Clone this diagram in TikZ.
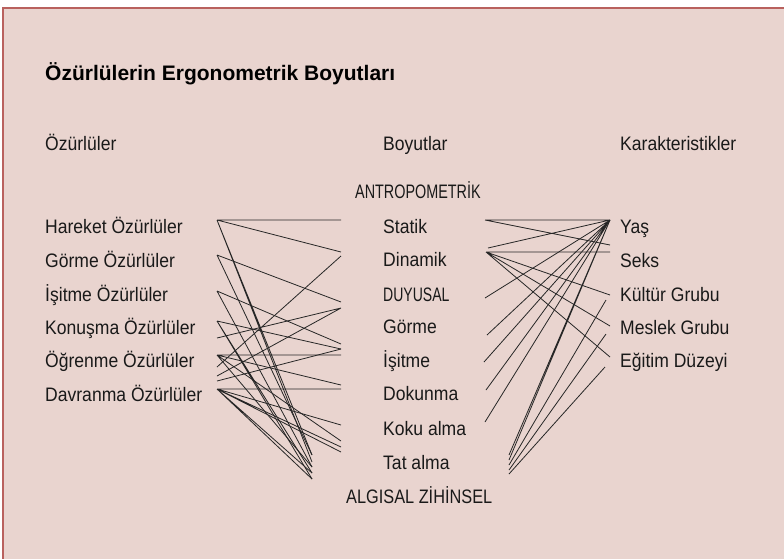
\documentclass[tikz,border=0pt]{standalone}
\usepackage{fontspec}
\usepackage{graphicx}
\setmainfont{Liberation Sans}[FakeStretch=0.9]
\newfontfamily\titlefont{Liberation Sans}
\definecolor{bgpink}{HTML}{E9D4CF}
\definecolor{frame}{HTML}{B9615E}
\begin{document}
\begin{tikzpicture}[x=1pt,y=-1pt,
  txt/.style={anchor=base west,inner sep=0pt,font=\fontsize{19.5}{22}\selectfont,text=black!90},
  ttl/.style={anchor=base west,inner sep=0pt,font=\titlefont\bfseries\fontsize{21}{24}\selectfont,text=black},
  ln/.style={draw=black!85,line width=0.8pt}]
\useasboundingbox (0,0) rectangle (784,558);
\fill[white] (0,0) rectangle (784,558);
\filldraw[fill=bgpink,draw=frame,line width=2.2pt] (3,8) rectangle (800,580);
% texts
\node[ttl] (title) at (45,80) {Özürlülerin Ergonometrik Boyutları};
\node[txt] (hl) at (45,150) {Özürlüler};
\node[txt] (hc) at (383,150) {Boyutlar};
\node[txt] (hr) at (620,150) {Karakteristikler};
\node[txt] (antro) at (355,198) {\scalebox{0.82}[1]{ANTROPOMETRİK}};
\node[txt] (algi) at (346,503) {\scalebox{0.93}[1]{ALGISAL ZİHİNSEL}};
\node[txt] (t1) at (45,233) {Hareket Özürlüler};
\node[txt] (t2) at (45,267) {Görme Özürlüler};
\node[txt] (t3) at (45,301) {İşitme Özürlüler};
\node[txt] (t4) at (45,334) {Konuşma Özürlüler};
\node[txt] (t5) at (45,367) {Öğrenme Özürlüler};
\node[txt] (t6) at (45,401) {Davranma Özürlüler};
\node[txt] (c1) at (383,233) {Statik};
\node[txt] (c2) at (383,266) {Dinamik};
\node[txt] (c3) at (383,301) {\scalebox{0.8}[1]{DUYUSAL}};
\node[txt] (c4) at (383,333) {Görme};
\node[txt] (c5) at (383,367) {İşitme};
\node[txt] (c6) at (383,400) {Dokunma};
\node[txt] (c7) at (383,435) {Koku alma};
\node[txt] (c8) at (383,469) {Tat alma};
\node[txt] (r1) at (620,233) {Yaş};
\node[txt] (r2) at (620,267) {Seks};
\node[txt] (r3) at (620,301) {Kültür Grubu};
\node[txt] (r4) at (620,334) {Meslek Grubu};
\node[txt] (r5) at (620,367) {Eğitim Düzeyi};
% left anchors
\coordinate (lH) at (217,220);
\coordinate (lG) at (217,255);
\coordinate (lI) at (217,291);
\coordinate (lK) at (217,321);
\coordinate (lO) at (217,355);
\coordinate (lD) at (217,389);
% centre-left ends
\coordinate (cS) at (341,220);
\coordinate (cDn) at (341,252);
\coordinate (cDm) at (341,256);
\coordinate (cA) at (341,302);
\coordinate (cB) at (341,308);
\coordinate (cC) at (341,344);
\coordinate (cD) at (341,349);
\coordinate (cE) at (341,355);
\coordinate (cF) at (341,385);
\coordinate (cG) at (341,389);
\coordinate (cH) at (341,425);
\coordinate (cI) at (341,441);
\coordinate (cJ) at (341,447);
\coordinate (cK) at (341,452);
\coordinate (b1) at (312,455);
\coordinate (b2) at (312,462);
\coordinate (b3) at (312,467);
\coordinate (b4) at (312,473);
\coordinate (b5) at (312,479);
\coordinate (f1) at (217,338);
\coordinate (f2) at (217,367);
\coordinate (f3) at (217,376);
\coordinate (f4) at (217,381);
% left lines
\path[ln] (lH) -- (cS) (lH) -- (cDn) (lH) -- (b2) (lH) -- (b1);
\path[ln] (lG) -- (cA) (lG) -- (b1);
\path[ln] (lI) -- (cC) (lI) -- (b3);
\path[ln] (lK) -- (cD) (lK) -- (b4) (lK) -- (b5);
\path[ln] (lO) -- (cE) (lO) -- (cF) (lO) -- (b3) (lO) -- (cI);
\path[ln] (lD) -- (cG) (lD) -- (cH) (lD) -- (cJ) (lD) -- (cK) (lD) -- (b4) (lD) -- (b5);
\path[ln] (cDm) -- (f2) (cB) -- (f1) (cB) -- (f3) (cD) -- (f4);
% right anchors
\coordinate (rS) at (485,220);
\coordinate (rY) at (610,220);
\coordinate (rDn) at (486,252);
\coordinate (e1) at (610,245);
\coordinate (e2) at (488,248);
\coordinate (e3) at (610,252);
\coordinate (e4) at (610,295);
\coordinate (e5) at (610,326);
\coordinate (e6) at (610,357);
\coordinate (g1) at (485,298);
\coordinate (g2) at (487,335);
\coordinate (g3) at (484,362);
\coordinate (g4) at (486,390);
\coordinate (g5) at (485,422);
\coordinate (h1) at (509,455);
\coordinate (h2) at (509,460);
\coordinate (h3) at (509,465);
\coordinate (h4) at (509,470);
\coordinate (h5) at (509,474);
\coordinate (u1) at (606,300);
\coordinate (u2) at (606,334);
\coordinate (u3) at (605,367);
% right lines
\path[ln] (rS) -- (rY) (rS) -- (e1) (e2) -- (rY);
\path[ln] (rDn) -- (e3) (rDn) -- (e4) (rDn) -- (e5) (rDn) -- (e6);
\path[ln] (rY) -- (g1) (rY) -- (g2) (rY) -- (g3) (rY) -- (g4) (rY) -- (g5);
\path[ln] (rY) -- (h1) (rY) -- (h2);
\path[ln] (u1) -- (h3) (u2) -- (h4) (u3) -- (h5);
\end{tikzpicture}
\end{document}
